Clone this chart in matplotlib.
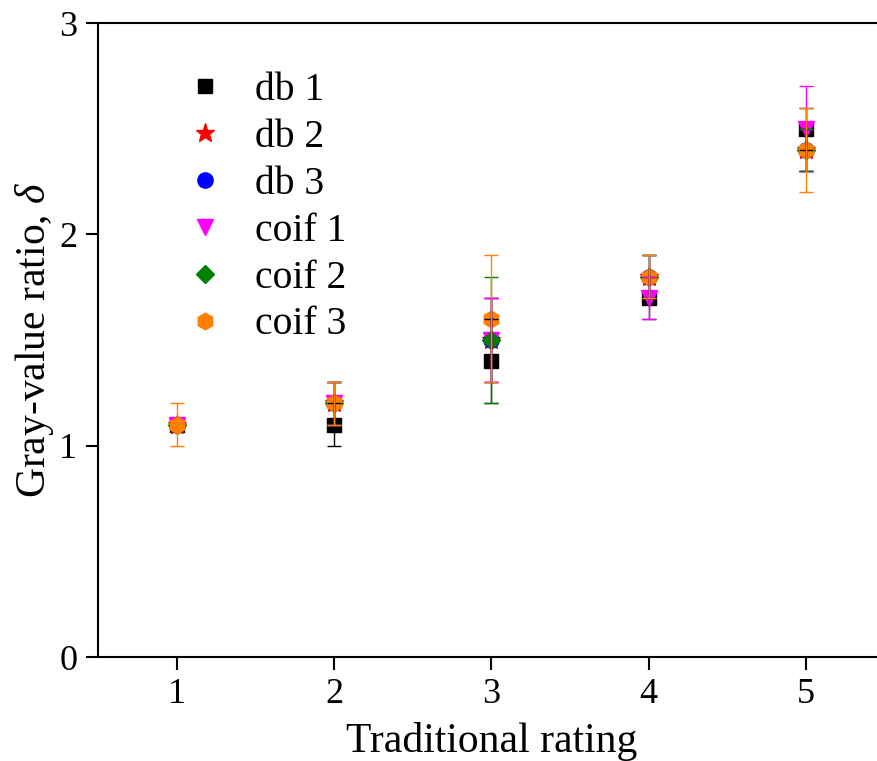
import numpy as np
import matplotlib
matplotlib.use("Agg")
import matplotlib.pyplot as plt

plt.rcParams['font.family'] = ['Liberation Serif', 'DejaVu Serif']
plt.rcParams['mathtext.fontset'] = 'custom'
plt.rcParams['mathtext.rm'] = 'Liberation Serif'
plt.rcParams['mathtext.it'] = 'Liberation Serif:italic'

# traditional rating classes
rating = [1, 2, 3, 4, 5]

db1 = [1.1, 1.1, 1.4, 1.7, 2.5]
db1_err = [0.0, 0.1, 0.2, 0.1, 0.1]
db2 = [1.1, 1.2, 1.5, 1.8, 2.4]
db2_err = [0.0, 0.1, 0.2, 0.1, 0.1]
db3 = [1.1, 1.2, 1.5, 1.8, 2.4]
db3_err = [0.0, 0.1, 0.2, 0.1, 0.1]
coif1 = [1.1, 1.2, 1.5, 1.7, 2.5]
coif1_err = [0.0, 0.1, 0.2, 0.1, 0.2]
coif2 = [1.1, 1.2, 1.5, 1.8, 2.4]
coif2_err = [0.0, 0.1, 0.3, 0.1, 0.1]
coif3 = [1.1, 1.2, 1.6, 1.8, 2.4]
coif3_err = [0.1, 0.1, 0.3, 0.1, 0.2]

series = [
    ("db 1", db1, db1_err, "black", "s", 10),
    ("db 2", db2, db2_err, "red", "*", 14),
    ("db 3", db3, db3_err, "blue", "o", 11),
    ("coif 1", coif1, coif1_err, "#FF00FF", "v", 12),
    ("coif 2", coif2, coif2_err, "#008000", "D", 9),
    ("coif 3", coif3, coif3_err, "#FF8000", "h", 12),
]

fig = plt.figure(figsize=(8.77, 7.61), dpi=100)
ax = fig.add_axes([98 / 877, 104 / 761, 786.6 / 877, 634 / 761])

# markers first, error bars on top (as in the original)
for i, (lab, y, e, c, m, ms) in enumerate(series):
    ax.plot(rating, y, linestyle="none", marker=m, color=c, markersize=ms,
            label=lab, zorder=2 + i * 0.1)
for i, (lab, y, e, c, m, ms) in enumerate(series):
    keep = np.array(e) > 0
    ax.errorbar(np.array(rating)[keep], np.array(y)[keep],
                yerr=np.array(e)[keep], fmt="none", ecolor=c, elinewidth=1,
                capsize=5, capthick=1, zorder=4 + i * 0.1)

ax.set_xlim(0.5, 5.5)
ax.set_ylim(0, 3)
ax.set_xticks([1, 2, 3, 4, 5])
ax.set_yticks([0, 1, 2, 3])
ax.minorticks_off()
ax.tick_params(direction="out", length=9, width=1.5, labelsize=26, pad=6,
               top=False, right=False)
for s in ax.spines.values():
    s.set_linewidth(1.5)

ax.set_xlabel("Traditional rating", fontsize=30, labelpad=8)
ax.set_ylabel(r"Gray-value ratio, $\delta$", fontsize=30, labelpad=2)

ax.legend(loc="upper left", bbox_to_anchor=(181 / 877, 1 - 72 / 761),
          bbox_transform=fig.transFigure, frameon=False, fontsize=28.5,
          numpoints=1, handlelength=1.2, handletextpad=0.66,
          labelspacing=0.25, borderaxespad=0, borderpad=0)

fig.savefig("out.png", dpi=100)
